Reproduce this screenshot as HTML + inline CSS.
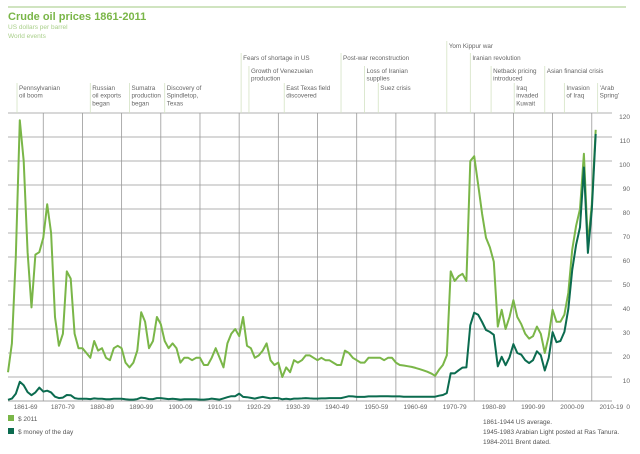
<!DOCTYPE html>
<html><head><meta charset="utf-8"><style>
body{margin:0;background:#fff;width:640px;height:449px;overflow:hidden;font-family:"Liberation Sans",sans-serif}
svg text{font-family:"Liberation Sans",sans-serif}
</style></head><body>
<svg id="c" width="640" height="449">
<line x1="8" y1="7" x2="626" y2="7" stroke="#b5d39a" stroke-width="1.2"/>
<text x="8" y="20" font-size="11" font-weight="bold" fill="#7ab648">Crude oil prices 1861-2011</text>
<text x="8" y="29" font-size="6.5" fill="#a9cf8a">US dollars per barrel</text>
<text x="8" y="38" font-size="6.5" fill="#a9cf8a">World events</text>
<g id="grid"></g><g id="events"></g><g id="series"></g><g id="axes"></g>
<rect x="8" y="415" width="6" height="6" fill="#7ab648"/>
<text x="18" y="421" font-size="6.5" fill="#555">$ 2011</text>
<rect x="8" y="428" width="6" height="6" fill="#0b6b4f"/>
<text x="18" y="434" font-size="6.5" fill="#555">$ money of the day</text>
<text x="483" y="424" font-size="6.5" fill="#555">1861-1944 US average.</text>
<text x="483" y="434" font-size="6.5" fill="#555">1945-1983 Arabian Light posted at Ras Tanura.</text>
<text x="483" y="444" font-size="6.5" fill="#555">1984-2011 Brent dated.</text>
</svg>
<script>
const years=[];for(let y=1861;y<=2011;y++)years.push(y);
const real2011=[12,24,60,117,100,62,39,61,62,68,82,70,35,23,28,54,51,28,22,22,20,18,25,21,22,18,17,22,23,22,16,14,16,21,37,33,22,25,35,32,25,22,24,22,16,18,18,17,18,18,15,15,18,22,18,14,24,28,30,27,35,23,22,18,19,21,24,17,15,16,10,14,12,17,16,17,19,19,18,17,18,17,17,16,15,15,21,20,18,17,16,16,18,18,18,18,17,18,18,16,15,14.8,14.5,14.2,13.8,13.3,12.8,12.2,11.5,10.5,13,15,19,54,50,52,53,50,100,102,90,78,68,64,58,31,38,30,35,42,35,32,28,26,27,31,28,20,27,38,33,33,36,45,63,73,80,103,65,82,113];
const money=[0.5,1,3,8,6.6,3.7,2.4,3.6,5.6,3.9,4.3,3.6,1.8,1.2,1.4,2.5,2.4,1.2,0.9,0.9,0.9,0.8,1.1,0.9,0.9,0.7,0.7,0.9,0.9,0.9,0.7,0.6,0.6,0.8,1.4,1.2,0.8,0.8,1.2,1.2,1,0.8,0.9,0.8,0.6,0.7,0.7,0.7,0.7,0.6,0.6,0.7,1,0.8,0.6,1.1,1.6,2,2,3.1,1.7,1.6,1.3,1,1.4,1.7,1.4,1.1,1.3,1.2,0.7,0.9,0.7,1,1,1.1,1.2,1.1,1,1,1.1,1.1,1.2,1.2,1.2,1.2,1.6,2,1.9,1.7,1.7,1.7,1.9,1.9,1.9,2,2,2,1.9,1.9,1.9,1.8,1.8,1.8,1.8,1.8,1.8,1.8,1.8,1.8,2.2,2.5,3.3,11.6,11.5,12.8,13.9,14,31.6,36.8,35.9,32.9,29.6,28.8,27.6,14.4,18.4,14.9,18.2,23.7,20,19.3,17,15.8,17,20.7,19.1,12.7,17.9,28.7,24.5,25,28.8,38.3,54.5,65.1,72.4,97.3,61.7,79.5,111.3];
const yTicks=[0,10,20,30,40,50,60,70,80,90,100,110,120];
const decadeLabels=["1861-69","1870-79","1880-89","1890-99","1900-09","1910-19","1920-29","1930-39","1940-49","1950-59","1960-69","1970-79","1980-89","1990-99","2000-09","2010-19"];
const eventLabels=[["Pennsylvanian","oil boom"],["Russian","oil exports","began"],["Sumatra","production","began"],["Discovery of","Spindletop,","Texas"],["Fears of shortage in US"],["Growth of Venezuelan","production"],["East Texas field","discovered"],["Post-war reconstruction"],["Loss of Iranian","supplies"],["Suez crisis"],["Yom Kippur war"],["Iranian revolution"],["Netback pricing","introduced"],["Iraq","invaded","Kuwait"],["Asian financial crisis"],["Invasion","of Iraq"],["'Arab","Spring'"]];
const eventYears=[1863.3,1882,1892,1901,1920.5,1922.5,1931.5,1946,1952,1955.5,1973,1979,1984.3,1990.2,1998,2003,2011.5];
const eventTiers=[3,3,3,3,0,1,3,0,1,3,-1,0,1,3,1,3,3];
const x=yr=>8+(yr-1861)*3.918;
const y=v=>401-v*2.4;
const NS='http://www.w3.org/2000/svg';
function mk(tag,attrs,parent){const e=document.createElementNS(NS,tag);for(const k in attrs)e.setAttribute(k,attrs[k]);document.getElementById(parent).appendChild(e);return e;}
yTicks.forEach(v=>{
 const l=mk('line',{x1:8,x2:612,y1:y(v),y2:y(v),stroke:v===0?'#888':'#999','stroke-width':0.8},'grid');
 
 
 const t=mk('text',{x:630,y:y(v)+(v===0?8:6),'font-size':6.5,fill:'#666','text-anchor':'end'},'axes');t.textContent=v;
 
 
});
for(let d=1870;d<=2010;d+=10){
 const l=mk('line',{x1:x(d),x2:x(d),y1:y(120),y2:y(0),stroke:'#999','stroke-width':0.8},'grid');
 
 
}
decadeLabels.forEach((s,i)=>{
 const start=i===0?1861:1860+i*10;const end=i===0?1870:start+10;
 const t=mk('text',{x:(x(start)+x(end))/2,y:409,'font-size':6.5,fill:'#666','text-anchor':'middle'},'axes');t.textContent=s;
 
 
});
const tierY={'-1':43,0:55,1:68,3:85};
eventLabels.forEach((lines,i)=>{
 const ex=x(eventYears[i]);const ty=tierY[eventTiers[i]];
 const l=mk('line',{x1:ex,x2:ex,y1:ty-2,y2:113,stroke:'#d4e3c4','stroke-width':0.8},'events');
 
 
 lines.forEach((s,j)=>{const t=mk('text',{x:ex+2,y:ty+5+j*7.7,'font-size':6.3,fill:'#666'},'events');t.textContent=s;
  
  });
});
function line(vals,color,name){
 const d=vals.map((v,i)=>(i?'L':'M')+x(years[i]).toFixed(1)+','+y(v).toFixed(1)).join('');
 const p=mk('path',{d:d,fill:'none',stroke:color,'stroke-width':2,'stroke-linejoin':'round'},'series');
 
 
}
line(real2011,'#7ab648','series-2011-dollars');
line(money,'#0b6b4f','series-money-of-the-day');
</script>
</body></html>
